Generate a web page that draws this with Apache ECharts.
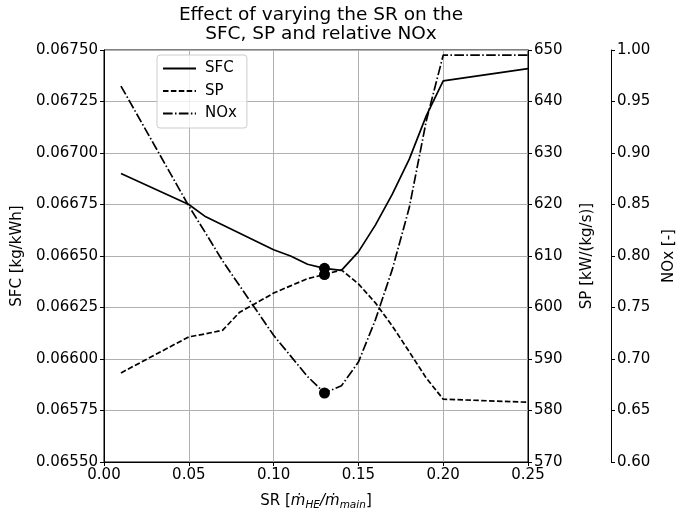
<!DOCTYPE html>
<html>
<head>
<meta charset="utf-8">
<title>SR chart</title>
<script src="https://cdn.jsdelivr.net/npm/echarts@6/dist/echarts.min.js"></script>
<style>
  html, body { margin: 0; padding: 0; background: #fff; }
  #chart { width: 676px; height: 513px; }
</style>
</head>
<body>
<div id="chart"></div>
<script>
// SR [mdot_HE / mdot_main]
var sr = [0.01, 0.05, 0.06, 0.07, 0.08, 0.09, 0.10, 0.11, 0.12, 0.13, 0.14, 0.15, 0.16, 0.17, 0.18, 0.19, 0.20, 0.25]
// SFC [kg/kWh]
var sfc = [0.06690, 0.06675, 0.06669, 0.06665, 0.06661, 0.06657, 0.06653, 0.06650, 0.06646, 0.06644, 0.06643, 0.06652, 0.06665, 0.06680, 0.06697, 0.06718, 0.06735, 0.06741]
// SP [kW/(kg/s)]
var sp = [587.3, 594.3, 594.9, 595.6, 599.1, 600.9, 602.8, 604.2, 605.6, 606.4, 607.3, 604.6, 600.9, 596.4, 591.4, 586.3, 582.2, 581.6]
// relative NOx [-]
var nox = [0.965, 0.8485, 0.822, 0.795, 0.771, 0.747, 0.723, 0.703, 0.683, 0.667, 0.674, 0.697, 0.738, 0.787, 0.847, 0.931, 0.995, 0.995]
// highlighted operating point
var optSR = 0.13

var FONT = 'DejaVu Sans'
var FS = 15

function pairs(ys) {
  return sr.map(function (x, i) { return [x, ys[i]] })
}
var k = sr.indexOf(optSR)

var chart = echarts.init(document.getElementById('chart'), null, { renderer: 'canvas' })

var axisCommon = {
  axisLine: { show: true, lineStyle: { color: '#000', width: 1 } },
  axisTick: { show: true, length: 4, lineStyle: { color: '#000' } },
  axisLabel: { color: '#000', fontSize: FS, fontFamily: FONT, margin: 6 },
  nameTextStyle: { color: '#000', fontSize: FS, fontFamily: FONT },
  nameLocation: 'middle',
  nameRotate: 90
}

var option = {
  animation: false,
  backgroundColor: '#fff',
  title: {
    text: 'Effect of varying the SR on the\nSFC, SP and relative NOx',
    left: 316,
    top: 1,
    textAlign: 'center',
    textStyle: { color: '#000', fontSize: 18.5, fontWeight: 'normal', fontFamily: FONT, lineHeight: 19 }
  },
  legend: {
    orient: 'vertical',
    left: 157,
    top: 55,
    padding: [6, 10, 7, 5],
    itemGap: 7.5,
    itemWidth: 33,
    itemHeight: 15,
    borderColor: '#cccccc',
    borderWidth: 1,
    borderRadius: 3,
    backgroundColor: 'rgba(255,255,255,0.8)',
    itemStyle: { opacity: 0 },
    textStyle: { color: '#000', fontSize: FS, fontFamily: FONT, padding: [0, 0, 0, 4] },
    data: ['SFC', 'SP', 'NOx']
  },
  grid: {
    left: 104,
    right: 148,
    top: 50,
    bottom: 51,
    outerBoundsMode: 'none',
    containLabel: false,
    show: true,
    borderColor: '#000',
    borderWidth: 1,
    backgroundColor: 'transparent'
  },
  xAxis: {
    type: 'value',
    min: 0,
    max: 0.25,
    interval: 0.05,
    name: 'SR [{i|ṁ}{s|HE}{i|/ṁ}{s|main}]',
    nameLocation: 'middle',
    nameGap: 29,
    nameTextStyle: {
      color: '#000', fontSize: FS, fontFamily: FONT, lineHeight: 20,
      rich: {
        i: { fontSize: FS, fontStyle: 'italic', fontFamily: FONT, color: '#000', lineHeight: 20 },
        s: { fontSize: 10.5, fontStyle: 'italic', fontFamily: FONT, color: '#000', lineHeight: 12, verticalAlign: 'bottom' }
      }
    },
    axisLine: { show: true, lineStyle: { color: '#000', width: 1 } },
    axisTick: { show: true, length: 4, lineStyle: { color: '#000' } },
    axisLabel: {
      color: '#000', fontSize: FS, fontFamily: FONT, margin: 6,
      formatter: function (v) { return v.toFixed(2) }
    },
    splitLine: { show: true, lineStyle: { color: '#b0b0b0', width: 1 } }
  },
  yAxis: [
    Object.assign({}, axisCommon, {
      type: 'value',
      position: 'left',
      min: 0.0655,
      max: 0.0675,
      interval: 0.00025,
      name: 'SFC [kg/kWh]',
      nameGap: 76,
      axisLabel: Object.assign({}, axisCommon.axisLabel, {
        formatter: function (v) { return v.toFixed(5) }
      }),
      splitLine: { show: true, lineStyle: { color: '#b0b0b0', width: 1 } }
    }),
    Object.assign({}, axisCommon, {
      type: 'value',
      position: 'right',
      min: 570,
      max: 650,
      interval: 10,
      name: 'SP [kW/(kg/s)]',
      nameGap: 52,
      splitLine: { show: false }
    }),
    Object.assign({}, axisCommon, {
      type: 'value',
      position: 'right',
      offset: 83,
      min: 0.6,
      max: 1.0,
      interval: 0.05,
      name: 'NOx [-]',
      nameGap: 50,
      axisLabel: Object.assign({}, axisCommon.axisLabel, {
        formatter: function (v) { return v.toFixed(2) }
      }),
      splitLine: { show: false }
    })
  ],
  series: [
    {
      name: 'SFC',
      type: 'line',
      yAxisIndex: 0,
      symbol: 'none',
      lineStyle: { color: '#000', width: 1.7, type: 'solid' },
      itemStyle: { color: '#000' },
      data: pairs(sfc)
    },
    {
      name: 'SP',
      type: 'line',
      yAxisIndex: 1,
      symbol: 'none',
      lineStyle: { color: '#000', width: 1.7, type: [5.5, 2.4] },
      itemStyle: { color: '#000' },
      data: pairs(sp)
    },
    {
      name: 'NOx',
      type: 'line',
      yAxisIndex: 2,
      symbol: 'none',
      lineStyle: { color: '#000', width: 1.7, type: [9.6, 2.4, 1.5, 2.4] },
      itemStyle: { color: '#000' },
      data: pairs(nox)
    },
    // operating point markers
    {
      name: 'SFC point',
      type: 'scatter',
      yAxisIndex: 0,
      symbolSize: 11,
      itemStyle: { color: '#000', opacity: 1 },
      data: [[sr[k], sfc[k]]],
      z: 5
    },
    {
      name: 'SP point',
      type: 'scatter',
      yAxisIndex: 1,
      symbolSize: 11,
      itemStyle: { color: '#000', opacity: 1 },
      data: [[sr[k], sp[k]]],
      z: 5
    },
    {
      name: 'NOx point',
      type: 'scatter',
      yAxisIndex: 2,
      symbolSize: 11,
      itemStyle: { color: '#000', opacity: 1 },
      data: [[sr[k], nox[k]]],
      z: 5
    }
  ]
}

chart.setOption(option)
</script>
</body>
</html>
